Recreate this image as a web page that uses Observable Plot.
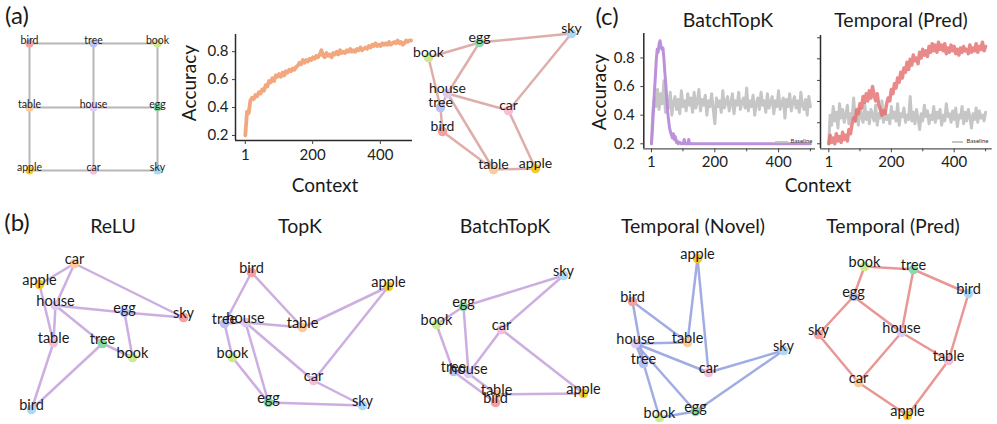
<!DOCTYPE html>
<html><head><meta charset="utf-8">
<script src="https://cdn.jsdelivr.net/npm/d3@7"></script>
<script src="https://cdn.jsdelivr.net/npm/@observablehq/plot@0.6"></script>
<style>
body{margin:0;background:#fff;}
#fig{position:relative;width:997px;height:424px;overflow:hidden;font-family:Lato,"Noto Sans",sans-serif;color:#1a1a1a;}
#fig svg{position:absolute;overflow:visible;}
.lbl{position:absolute;white-space:nowrap;transform:translate(-50%,-50%);line-height:1;}
.rot{transform:translate(-50%,-50%) rotate(-90deg);}
.sw{position:absolute;height:2.5px;background:#c4c4c4;}
</style></head><body><div id="fig"></div>
<script>
// ---------- data ----------
const edges = [["bird","tree"],["tree","book"],["table","house"],["house","egg"],["apple","car"],["car","sky"],
  ["bird","table"],["table","apple"],["tree","house"],["house","car"],["book","egg"],["egg","sky"]];

const paletteA = {bird:"#f79f9f",tree:"#b6c2f5",book:"#cdea8c",table:"#fdca98",house:"#ddcaf5",egg:"#87dba9",apple:"#f6c92b",car:"#f6bcd8",sky:"#abd8fa"};
const paletteB = {bird:"#abd8fa",tree:"#87dba9",book:"#cdea8c",table:"#f6bcd8",house:"#ddcaf5",egg:"#b6c2f5",apple:"#f6c92b",car:"#fdca98",sky:"#f79f9f"};

const gridNodes = [["bird",29,43],["tree",93,43],["book",157,43],["table",29,107],["house",93,107],["egg",157,107],["apple",29,170],["car",93,170],["sky",157,170]];
const learnedNodes = [["sky",571,33],["egg",479,42],["book",428,57],["house",447,93],["tree",440,107],["bird",442,131],["car",508,110],["table",493,169],["apple",535,168]];
const reluNodes = [["car",74,263],["apple",39,284],["house",55,305],["egg",124,312],["sky",183,317],["table",53,342],["tree",102,343],["book",132,357],["bird",31,409]];
const topkNodes = [["bird",251,272],["apple",388,286],["tree",224,323],["house",245,322],["table",302,327],["book",232,357],["car",313,380],["egg",268,402],["sky",362,405]];
const batchNodes = [["sky",563,275],["egg",463,306],["book",436,324],["car",501,329],["tree",453,371],["house",468,373],["table",496,394],["bird",495,402],["apple",583,393]];
const novelNodes = [["apple",697,258],["bird",632,301],["house",635,343],["table",687,342],["sky",783,350],["tree",643,363],["car",708,372],["egg",695,411],["book",659,417]];
const predNodes = [["book",864,266],["tree",913,269],["bird",968,293],["egg",853,296],["sky",818,334],["house",901,332],["table",948,360],["car",858,382],["apple",907,415]];

const panelTitles = ["ReLU","TopK","BatchTopK","Temporal (Novel)","Temporal (Pred)"];

// (a) accuracy vs context, x = 1, 6, 11, ...
const accA = [0.20,0.37,0.36,0.45,0.47,0.46,0.49,0.48,0.51,0.50,0.53,0.52,0.56,0.55,0.59,0.58,0.61,0.59,0.63,0.62,
  0.64,0.62,0.65,0.63,0.66,0.65,0.67,0.66,0.68,0.67,0.69,0.70,0.72,0.71,0.74,0.72,0.74,0.73,0.75,0.74,
  0.76,0.75,0.77,0.76,0.78,0.81,0.77,0.76,0.79,0.77,0.78,0.76,0.79,0.78,0.80,0.78,0.81,0.79,0.80,0.79,
  0.81,0.80,0.82,0.80,0.81,0.80,0.82,0.81,0.83,0.81,0.82,0.83,0.82,0.84,0.83,0.85,0.84,0.86,0.84,0.85,
  0.84,0.86,0.85,0.86,0.85,0.87,0.85,0.86,0.87,0.86,0.88,0.86,0.87,0.85,0.86,0.88,0.87,0.88,0.88];

// (c) BatchTopK, x = 1, 5, 10, ... 500
const batchBaseline = [0.20,0.42,0.52,0.46,0.58,0.44,0.55,0.48,0.64,0.42,0.50,0.45,0.56,0.40,0.49,0.53,0.44,0.51,0.41,0.57,
  0.46,0.50,0.43,0.55,0.47,0.52,0.42,0.56,0.45,0.49,0.58,0.43,0.51,0.47,0.54,0.40,0.50,0.46,0.55,0.44,
  0.34,0.52,0.46,0.50,0.42,0.57,0.45,0.49,0.53,0.43,0.48,0.55,0.41,0.50,0.47,0.56,0.44,0.49,0.52,0.45,
  0.59,0.43,0.50,0.46,0.54,0.40,0.48,0.52,0.44,0.56,0.47,0.50,0.42,0.55,0.45,0.49,0.53,0.41,0.50,0.46,
  0.57,0.44,0.48,0.52,0.38,0.51,0.46,0.55,0.43,0.49,0.53,0.45,0.50,0.42,0.56,0.47,0.44,0.51,0.40,0.53,0.46];
const batchCtx = [1,4,7,10,13,16,19,22,25,28,31,34,37,40,43,46,49,52,55,58,61,64,67,70,73,76,79,82,85,90,95,100,104,107,115,118,121,150,500];
const batchAcc = [0.20,0.30,0.42,0.55,0.66,0.78,0.86,0.84,0.90,0.92,0.88,0.86,0.87,0.80,0.70,0.62,0.52,0.42,0.36,0.31,0.28,0.26,0.24,0.27,0.23,0.25,0.21,0.22,0.20,0.21,0.20,0.20,0.23,0.20,0.20,0.23,0.20,0.20,0.20];

// (c) Temporal (Pred), x = 1, 5, 10, ... 500
const predBaseline = [0.20,0.40,0.33,0.46,0.36,0.42,0.31,0.48,0.38,0.44,0.35,0.40,0.47,0.34,0.41,0.37,0.52,0.36,0.43,0.33,
  0.45,0.39,0.35,0.48,0.37,0.42,0.34,0.44,0.40,0.36,0.47,0.33,0.41,0.38,0.50,0.35,0.43,0.37,0.40,0.34,
  0.46,0.38,0.42,0.36,0.48,0.33,0.41,0.39,0.45,0.35,0.40,0.37,0.53,0.36,0.42,0.34,0.44,0.38,0.30,0.41,
  0.36,0.47,0.39,0.43,0.34,0.40,0.37,0.46,0.35,0.42,0.38,0.44,0.33,0.40,0.36,0.48,0.39,0.41,0.35,0.43,
  0.37,0.45,0.32,0.40,0.38,0.46,0.34,0.42,0.36,0.44,0.39,0.31,0.41,0.37,0.45,0.35,0.43,0.38,0.40,0.36,0.42];
const predAcc = [0.20,0.26,0.21,0.24,0.20,0.27,0.22,0.25,0.21,0.28,0.23,0.26,0.22,0.30,0.27,0.34,0.38,0.36,0.44,0.41,
  0.48,0.45,0.53,0.49,0.55,0.50,0.57,0.52,0.60,0.54,0.50,0.55,0.47,0.44,0.40,0.43,0.41,0.48,0.52,0.50,
  0.58,0.55,0.62,0.59,0.66,0.63,0.70,0.66,0.73,0.70,0.77,0.72,0.79,0.75,0.82,0.78,0.80,0.76,0.84,0.80,
  0.86,0.82,0.85,0.81,0.88,0.84,0.90,0.85,0.89,0.84,0.91,0.86,0.89,0.85,0.90,0.83,0.87,0.84,0.89,0.85,
  0.88,0.83,0.86,0.82,0.87,0.84,0.88,0.85,0.86,0.83,0.89,0.84,0.87,0.85,0.90,0.84,0.88,0.86,0.91,0.85,0.88];

const xTicks = [1,200,400];
const xMinor = [100,300,500];
const yTicks = [0.2,0.4,0.6,0.8];
const predYTicks = [0.2,0.347,0.496,0.643,0.794,0.941];

// ---------- drawing ----------
const FONT = 'Lato, "Noto Sans", sans-serif';
const fig = document.getElementById("fig");
function place(el, left, top){ el.style.left = left+"px"; el.style.top = top+"px"; fig.appendChild(el); }
function label(text, x, y, size, cls){
  const d = document.createElement("div"); d.className = "lbl" + (cls? " "+cls : "");
  d.textContent = text; d.style.fontSize = size+"px"; place(d, x, y); return d;
}

function graph(nodeRows, palette, edgeColor, box, o={}){
  const nodes = nodeRows.map(([word,x,y])=>({word,x,y}));
  const byWord = new Map(nodes.map(n=>[n.word,n]));
  const links = edges.map(([a,b])=>({a:byWord.get(a), b:byWord.get(b)}));
  const p = Plot.plot({
    width: box.w, height: box.h, margin: 0,
    x: {domain:[box.x, box.x+box.w], range:[0, box.w], axis:null},
    y: {domain:[box.y, box.y+box.h], range:[0, box.h], axis:null},
    color: {type:"identity"},
    style: {fontFamily: FONT, background:"transparent", overflow:"visible"},
    marks: [
      Plot.link(links, {x1:d=>d.a.x, y1:d=>d.a.y, x2:d=>d.b.x, y2:d=>d.b.y, stroke:edgeColor, strokeWidth:o.sw||2.5, strokeOpacity:0.95}),
      Plot.dot(nodes, {x:"x", y:"y", r:o.r||4.8, fill:d=>palette[d.word], stroke:"none"}),
      Plot.text(nodes, {x:"x", y:"y", text:"word", dy:o.dy||-4, fontSize:o.fs||14.5, fill:"#1a1a1a"})
    ]
  });
  place(p, box.x, box.y);
}

graph(gridNodes, paletteA, "#b3b3b3", {x:0,y:25,w:195,h:170}, {sw:2, r:4, fs:10.5, dy:-3});
graph(learnedNodes, paletteA, "#dcaaa7", {x:405,y:15,w:195,h:180}, {dy:-4.5, fs:14});
graph(reluNodes, paletteB, "#c9aadf", {x:0,y:240,w:200,h:184});
graph(topkNodes, paletteA, "#c9aadf", {x:200,y:240,w:210,h:184});
graph(batchNodes, paletteA, "#c9aadf", {x:410,y:240,w:200,h:184});
graph(novelNodes, paletteA, "#9ca8e2", {x:600,y:240,w:200,h:184});
graph(predNodes, paletteB, "#e8918f", {x:795,y:240,w:202,h:184});

function lineChart(cfg){
  const marks = [];
  cfg.lines.forEach(l=>marks.push(Plot.line(l.data,{x:"x", y:"y", stroke:l.color, strokeWidth:l.w, strokeOpacity:l.o, strokeLinejoin:"round"})));
  marks.push(Plot.ruleX([cfg.xd[0]], {stroke:"#2a2a2a", strokeWidth:1.5}));
  marks.push(Plot.ruleY([cfg.yd[0]], {stroke:cfg.bottomColor||"#2a2a2a", strokeWidth:1.3}));
  marks.push(Plot.axisX({ticks:xTicks, tickSize:4, tickPadding:cfg.xPad, label:null, fontSize:15, stroke:"#444"}));
  if (cfg.minor) marks.push(Plot.axisX({ticks:xMinor, tickSize:3, tickFormat:()=>"", label:null, stroke:"#444"}));
  if (cfg.yLabels) marks.push(Plot.axisY({ticks:yTicks, tickFormat:d3.format(".1f"), tickSize:3, tickPadding:cfg.yPad, label:null, fontSize:15, stroke:"#444"}));
  else marks.push(Plot.axisY({ticks:cfg.yTicks, tickFormat:()=>"", tickSize:3, label:null, stroke:"#444"}));
  const p = Plot.plot({
    width: cfg.w, height: cfg.h,
    marginLeft: cfg.mL, marginRight: cfg.mR, marginTop: cfg.mT, marginBottom: cfg.mB,
    x: {domain: cfg.xd}, y: {domain: cfg.yd},
    style: {fontFamily: FONT, fontSize:"15px", color:"#222", background:"transparent", overflow:"visible"},
    marks
  });
  place(p, cfg.left, cfg.top);
}

const seriesA = accA.map((v,i)=>({x: 1+5*i, y: v}));
const seriesStep5 = vals => vals.map((v,i)=>({x: i===0 ? 1 : 5*i, y: v}));

lineChart({left:175, top:0, w:245, h:200, mL:60, mR:8, mT:34, mB:60,
  xd:[-28,495], yd:[0.164,0.923], xPad:5, yPad:4, yLabels:true,
  lines:[{data:seriesA, color:"#f3a77f", w:3.8, o:1}]});

lineChart({left:590, top:0, w:230, h:200, mL:53.3, mR:5, mT:33, mB:51.7,
  xd:[-23,516], yd:[0.165,0.971], xPad:4, yPad:6, yLabels:true, minor:true, bottomColor:"#555",
  lines:[{data:seriesStep5(batchBaseline), color:"#c6c6c6", w:3, o:1},
         {data:batchCtx.map((c,i)=>({x:c, y:batchAcc[i]})), color:"#b88bd9", w:3, o:0.95}]});

lineChart({left:790, top:0, w:207, h:200, mL:30, mR:5.3, mT:35, mB:51.7,
  xd:[-25.5,521], yd:[0.165,0.957], xPad:4, yLabels:false, yTicks:predYTicks, minor:true, bottomColor:"#555",
  lines:[{data:seriesStep5(predBaseline), color:"#c6c6c6", w:3, o:1},
         {data:seriesStep5(predAcc), color:"#e36b6b", w:3.5, o:0.8}]});

// legends
function legend(x1, x2, tx, y){
  const s = document.createElement("div"); s.className="sw"; s.style.width=(x2-x1)+"px"; place(s, x1, y-1.2);
  const t = document.createElement("div"); t.style.position="absolute"; t.style.fontSize="6px"; t.style.lineHeight="1";
  t.style.color="#333"; t.textContent="Baseline"; place(t, tx, y-3.5);
}
legend(775, 788, 790.5, 141.7);
legend(952, 963, 966.5, 141.7);

// text
label("(a)", 17, 15, 24);
label("(b)", 17, 222, 24);
label("(c)", 607, 16, 24);
label("Accuracy", 188, 83, 19, "rot");
label("Context", 325, 184, 19);
label("BatchTopK", 728, 20, 19.5);
label("Temporal (Pred)", 901, 20, 19.5);
label("Context", 818, 184, 19);
label("Accuracy", 598, 92, 19, "rot");
const titleX = [113, 300, 505, 693, 893];
panelTitles.forEach((t,i)=>label(t, titleX[i], 226, 19.5));
</script></body></html>
